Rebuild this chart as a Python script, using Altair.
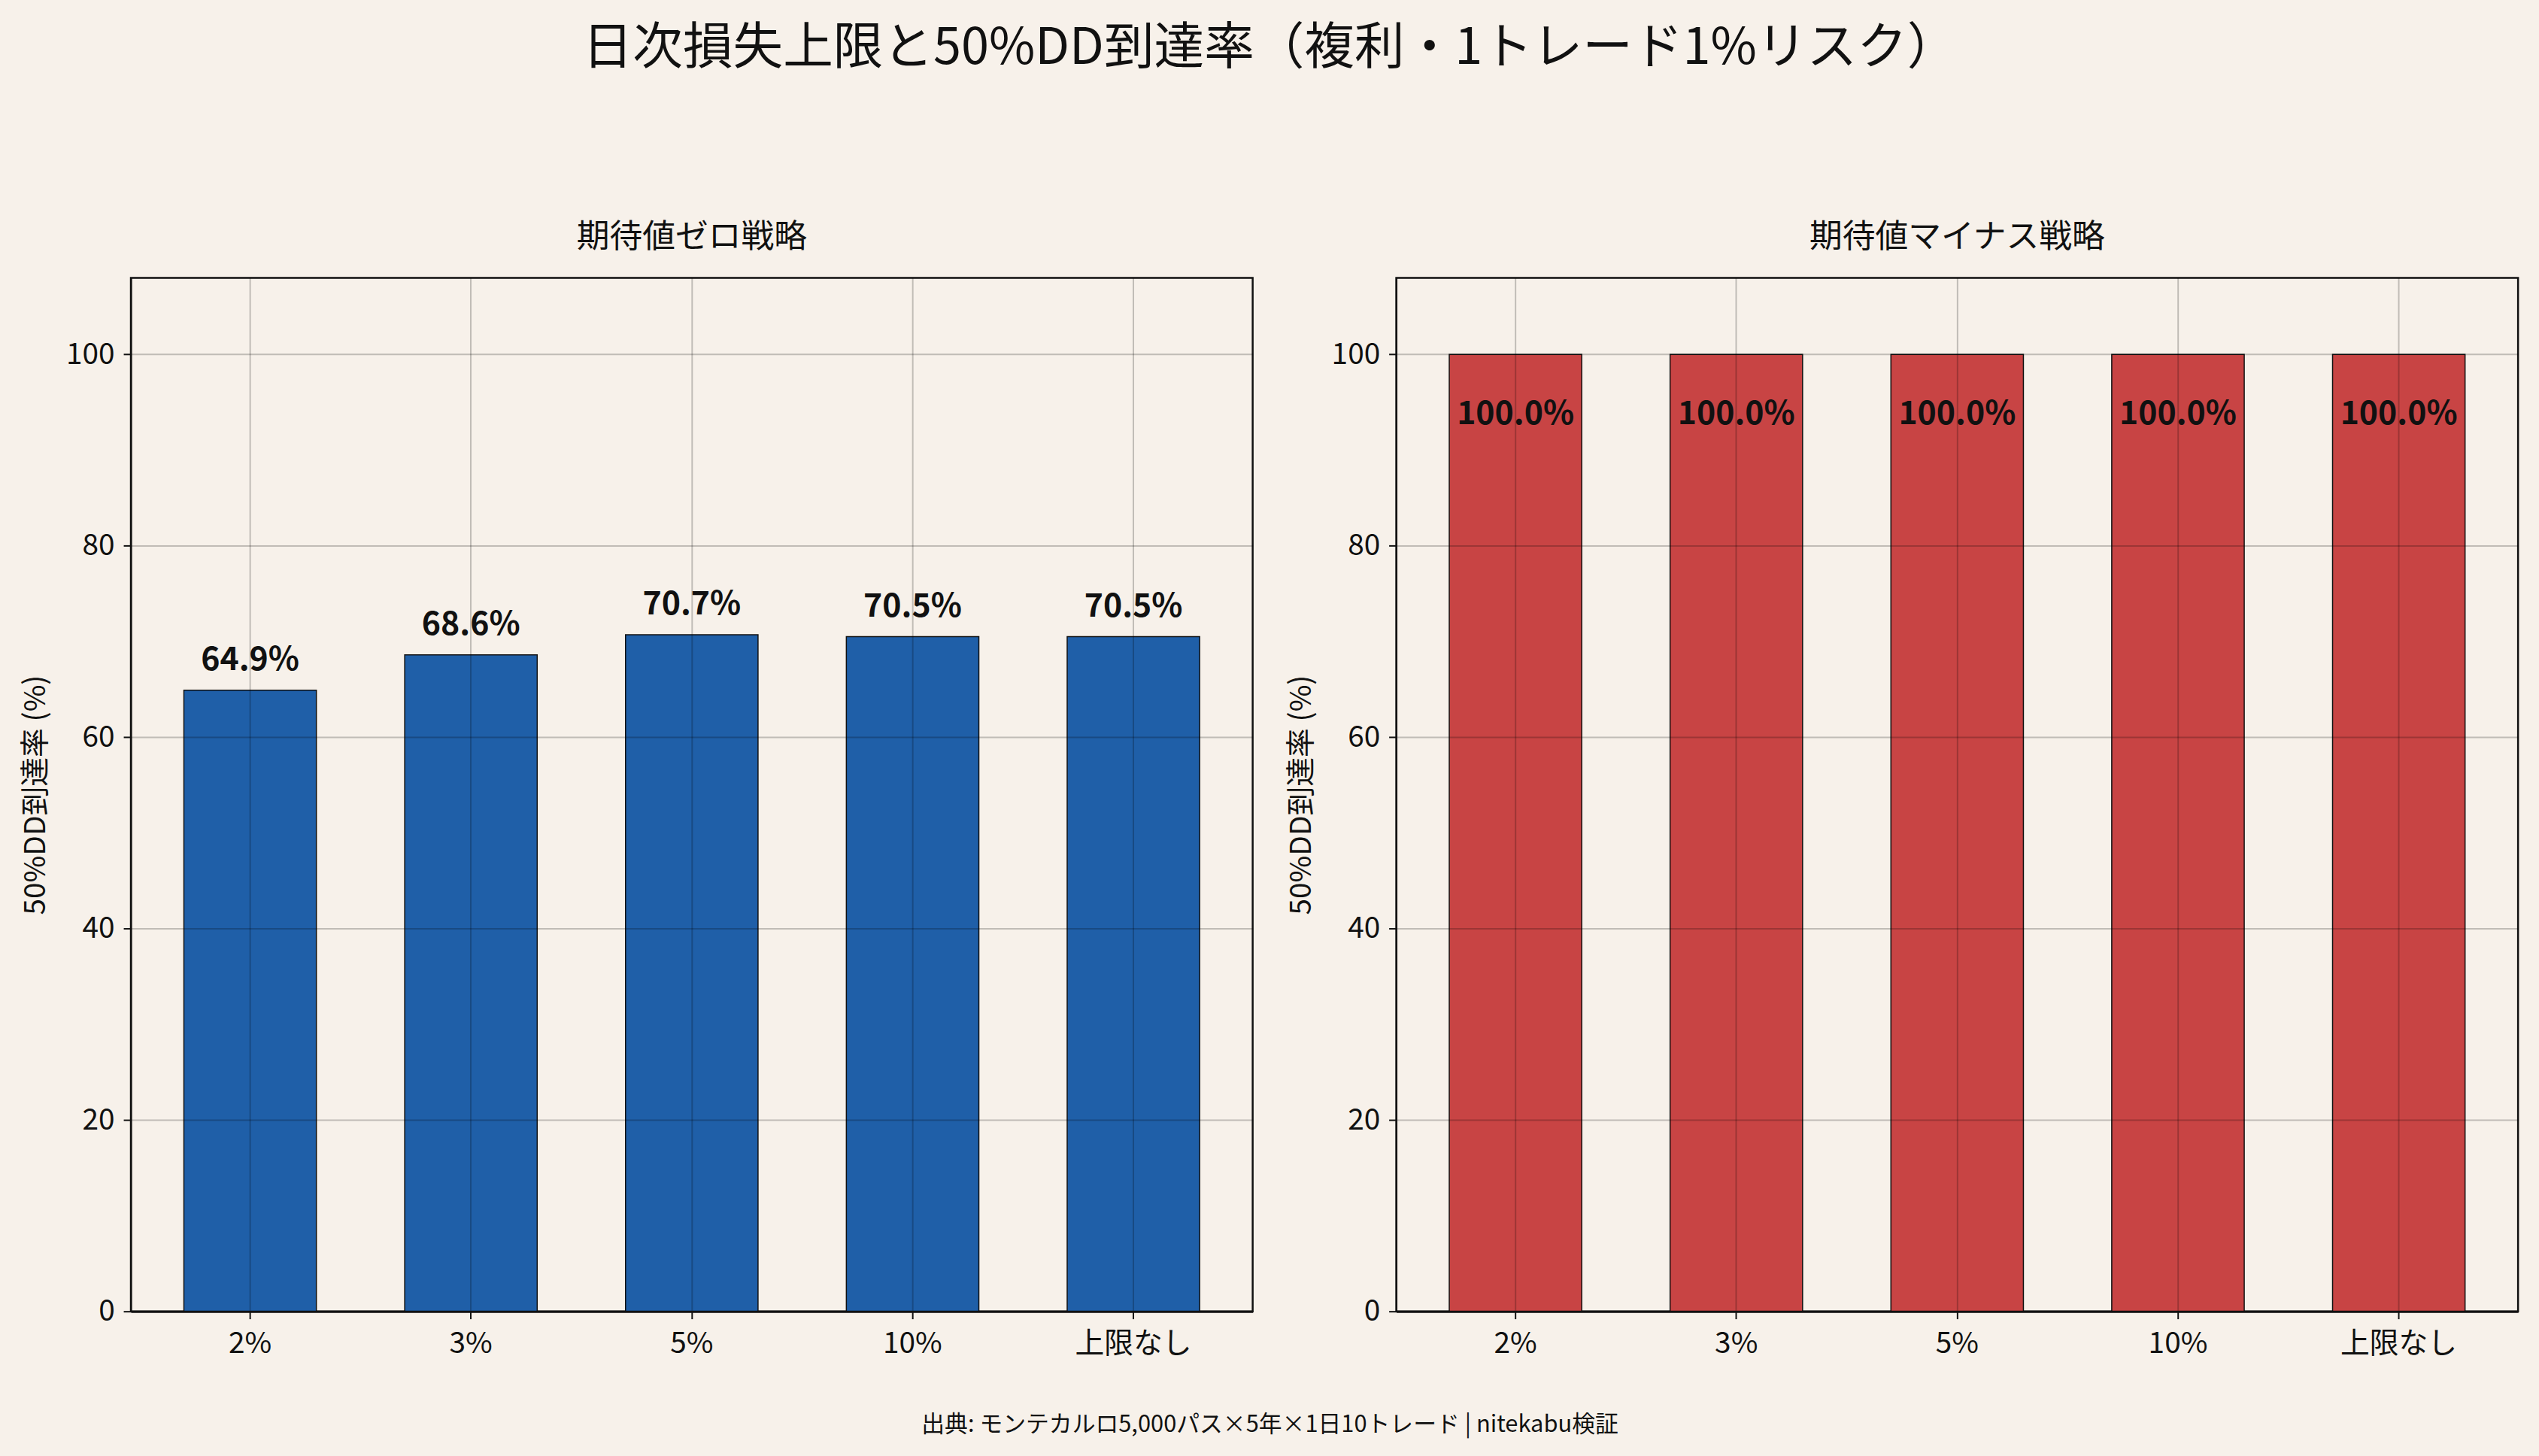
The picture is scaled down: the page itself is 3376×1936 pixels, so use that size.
import altair as alt
import pandas as pd

limits = ["2%", "3%", "5%", "10%", "上限なし"]
zero_ev = [64.9, 68.6, 70.7, 70.5, 70.5]
minus_ev = [100.0, 100.0, 100.0, 100.0, 100.0]

title_main = "日次損失上限と50%DD到達率（複利・1トレード1%リスク）"
title_left = "期待値ゼロ戦略"
title_right = "期待値マイナス戦略"
y_title = "50%DD到達率 (%)"
footer = "出典: モンテカルロ5,000パス×5年×1日10トレード | nitekabu検証"

BG = "#F7F1EA"
FONT = "Noto Sans CJK JP"
W, H = 1500, 1382


def panel(values, color, subtitle, inside):
    df = pd.DataFrame({"limit": limits, "v": values})
    base = alt.Chart(df).transform_calculate(
        label="format(datum.v, '.1f') + '%'"
    )
    x = alt.X("limit:N", sort=limits, title=None,
              scale=alt.Scale(paddingInner=0.4, paddingOuter=0.24),
              axis=alt.Axis(labelAngle=0, labelFontSize=39, labelPadding=14,
                            tickSize=10, tickWidth=2, tickColor="#111111",
                            domainColor="#111111", domainWidth=3,
                            grid=True, gridColor="#000000", gridOpacity=0.22,
                            gridWidth=2, labelColor="#111111", zindex=1))
    y = alt.Y("v:Q", title=y_title,
              scale=alt.Scale(domain=[0, 108], nice=False, zero=True),
              axis=alt.Axis(values=[0, 20, 40, 60, 80, 100], labelFontSize=39,
                            labelPadding=12, tickSize=10, tickWidth=2,
                            tickColor="#111111", domainColor="#111111",
                            domainWidth=2, grid=True, gridColor="#000000",
                            gridOpacity=0.22, gridWidth=2, titleFontSize=39,
                            titleFontWeight="normal", titlePadding=20,
                            labelColor="#111111", titleColor="#111111",
                            zindex=1))
    bars = base.mark_bar(color=color, stroke="#111111", strokeWidth=1.5).encode(x=x, y=y)
    if inside:
        txt = base.mark_text(fontSize=43, fontWeight="bold", color="#111111",
                             baseline="middle", dy=80, font=FONT)
    else:
        txt = base.mark_text(fontSize=43, fontWeight="bold", color="#111111",
                             baseline="middle", dy=-40, font=FONT)
    txt = txt.encode(x=alt.X("limit:N", sort=limits), y="v:Q", text="label:N")
    return alt.layer(bars, txt).properties(
        width=W, height=H,
        title=alt.TitleParams(subtitle, fontSize=44, fontWeight="normal",
                              offset=32, color="#111111", font=FONT),
    )


left = panel(zero_ev, "#1F5FA8", title_left, False)
right = panel(minus_ev, "#C84444", title_right, True)

inner = alt.hconcat(left, right, spacing=42).properties(
    title=alt.TitleParams(title_main, fontSize=67, fontWeight="normal",
                          anchor="middle", offset=195, color="#111111", font=FONT)
)

chart = alt.vconcat(inner).properties(
    title=alt.TitleParams(footer, orient="bottom", fontSize=31,
                          fontWeight="normal", anchor="middle", offset=73,
                          color="#111111", font=FONT),
    padding={"left": 27, "top": 25, "right": 26, "bottom": 29},
    background=BG,
).configure(
    font=FONT
).configure_view(
    stroke="#111111", strokeWidth=2.5, fill=BG
).configure_axis(labelFont=FONT, titleFont=FONT)

chart.save("out.html", embed_options={"renderer": "svg", "actions": False})
